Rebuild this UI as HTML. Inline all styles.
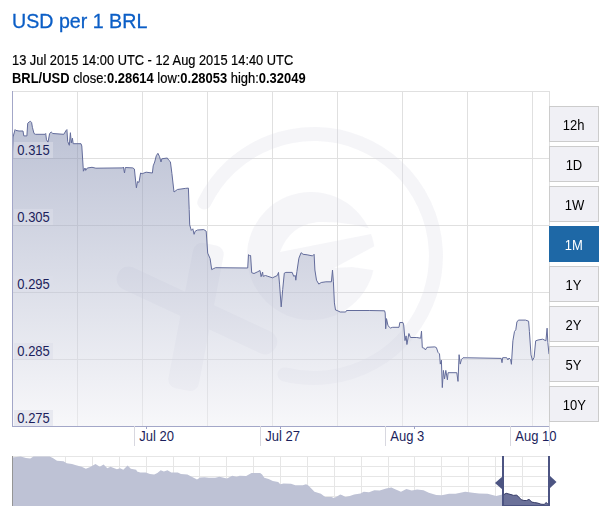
<!DOCTYPE html>
<html><head><meta charset="utf-8"><style>
html,body{margin:0;padding:0;background:#fff;width:608px;height:510px;overflow:hidden;position:relative;font-family:"Liberation Sans",sans-serif;}
.title{position:absolute;left:12px;top:8px;font-size:21px;color:#0b5ec6;line-height:26px;white-space:nowrap;transform:scaleX(0.935);transform-origin:0 0;-webkit-text-stroke:0.3px #0b5ec6;}
.l1{position:absolute;left:12px;top:52px;font-size:14px;color:#000;line-height:16px;white-space:nowrap;transform:scaleX(0.917);transform-origin:0 0;-webkit-text-stroke:0.2px #000;}
.l2{position:absolute;left:12px;top:70px;font-size:14px;color:#000;line-height:16px;white-space:nowrap;transform:scaleX(0.9245);transform-origin:0 0;-webkit-text-stroke:0.2px #000;}
.l2 b{-webkit-text-stroke:0;}
svg{position:absolute;left:0;top:0;}
.btn{position:absolute;left:549px;width:48px;height:34px;border:1px solid #cccccc;background:#f0f0f5;color:#000;font-size:14px;line-height:36px;text-align:center;}
.btn span{display:inline-block;transform:scaleX(0.93);}
.btn.active{background:#1e68a6;border-color:#1e68a6;color:#fff;}
</style></head><body>
<div class="title">USD per 1 BRL</div>
<div class="l1">13 Jul 2015 14:00 UTC - 12 Aug 2015 14:40 UTC</div>
<div class="l2"><b>BRL/USD</b> close:<b>0.28614</b> low:<b>0.28053</b> high:<b>0.32049</b></div>
<svg width="608" height="510" viewBox="0 0 608 510">
<defs>
<linearGradient id="fg" x1="0" y1="91" x2="0" y2="426" gradientUnits="userSpaceOnUse">
<stop offset="0" stop-color="rgb(110,122,163)"/>
<stop offset="1" stop-color="rgb(240,240,245)"/>
</linearGradient>
<clipPath id="plot"><rect x="12" y="91" width="537" height="335"/></clipPath>
</defs>
<g stroke="#e0e0e0" stroke-width="1" shape-rendering="crispEdges">
<line x1="12" y1="91.5" x2="549" y2="91.5"/>
<line x1="12" y1="158.5" x2="549" y2="158.5"/>
<line x1="12" y1="225.5" x2="549" y2="225.5"/>
<line x1="12" y1="292.5" x2="549" y2="292.5"/>
<line x1="12" y1="359.5" x2="549" y2="359.5"/>
<line x1="77.5" y1="91" x2="77.5" y2="426"/>
<line x1="142.5" y1="91" x2="142.5" y2="426"/>
<line x1="207.5" y1="91" x2="207.5" y2="426"/>
<line x1="272.5" y1="91" x2="272.5" y2="426"/>
<line x1="337.5" y1="91" x2="337.5" y2="426"/>
<line x1="402.5" y1="91" x2="402.5" y2="426"/>
<line x1="467.5" y1="91" x2="467.5" y2="426"/>
<line x1="532.5" y1="91" x2="532.5" y2="426"/>
<line x1="549.5" y1="91" x2="549.5" y2="426"/>
</g>
<g clip-path="url(#plot)" opacity="0.25">
<path d="M204.3 202.5 A122 122 0 1 1 284.5 374.4" fill="none" stroke="#d8d8e4" stroke-width="14" stroke-linecap="round"/>
<mask id="emask" maskUnits="userSpaceOnUse" x="0" y="0" width="608" height="510"><circle cx="311" cy="256" r="64" fill="#fff"/><path d="M280 252 Q290 225 318 222 Q348 221 378 231 L376 233 Z" fill="#000"/><path d="M334 268 L386 240 L386 272 L352 267 Z" fill="#000"/></mask>
<rect x="240" y="185" width="150" height="145" fill="#d8d8e4" mask="url(#emask)"/>
<rect x="110" y="298.4" width="174" height="24" rx="11" fill="#d8d8e4" transform="rotate(25 196.9 310.4)"/>
<rect x="180.5" y="242.9" width="31" height="148" rx="9" fill="#d8d8e4" transform="rotate(10.9 196 316.9)"/>
</g>
<path d="M12.5 152.0 L13.0 137.0 L15.1 129.6 L15.9 130.4 L19.0 131.0 L23.0 131.0 L23.8 135.9 L26.9 135.9 L27.7 123.3 L29.3 121.8 L30.5 121.3 L31.6 122.5 L32.4 127.3 L34.0 133.5 L35.5 134.3 L45.0 134.3 L45.7 133.5 L46.5 139.8 L48.0 142.2 L49.6 133.5 L51.2 132.0 L52.8 133.5 L63.8 134.3 L66.1 130.4 L66.9 129.6 L67.7 141.4 L69.3 145.3 L70.4 132.7 L71.3 142.9 L72.4 138.2 L73.2 143.7 L81.0 143.7 L81.8 146.0 L83.4 171.2 L85.0 168.0 L85.7 170.4 L87.3 168.0 L92.0 167.3 L95.9 168.2 L122.6 167.9 L123.4 167.0 L124.5 173.0 L125.3 167.5 L132.8 167.9 L134.4 169.0 L135.1 176.0 L136.4 187.8 L137.5 181.6 L139.0 182.4 L140.6 173.0 L142.2 173.7 L146.1 172.2 L152.4 173.0 L153.2 165.9 L154.7 162.0 L156.3 155.7 L157.9 153.3 L159.5 156.5 L161.0 162.0 L161.8 158.8 L167.3 158.0 L168.9 160.4 L170.4 161.8 L171.9 173.5 L174.0 192.0 L177.4 189.5 L185.3 188.4 L188.4 188.1 L189.2 209.6 L189.7 224.9 L191.3 230.4 L192.8 228.8 L194.1 234.3 L195.2 231.2 L197.5 230.0 L203.8 229.6 L206.2 231.2 L207.7 253.1 L210.1 258.6 L211.7 269.6 L213.2 268.8 L215.6 267.7 L247.7 268.0 L248.5 254.7 L249.6 255.5 L250.6 255.5 L251.7 272.7 L254.0 273.5 L257.2 272.0 L260.0 270.5 L261.1 276.7 L262.6 272.0 L263.1 276.3 L265.5 275.5 L267.8 276.3 L272.5 277.8 L277.3 275.5 L278.5 272.4 L279.6 284.9 L281.2 306.9 L282.7 289.6 L284.3 273.1 L285.9 272.4 L292.2 272.4 L293.7 276.3 L295.3 275.5 L295.8 280.2 L296.9 271.6 L298.9 258.2 L301.1 252.7 L303.1 254.3 L307.1 254.8 L312.5 255.9 L314.1 254.3 L314.9 270.0 L316.5 280.2 L318.8 284.1 L321.2 282.5 L325.9 281.8 L331.4 281.8 L332.5 270.0 L333.4 281.8 L334.4 302.9 L335.5 310.0 L337.1 310.5 L340.2 312.0 L345.7 312.0 L346.5 310.5 L369.2 310.5 L384.6 310.8 L385.2 313.1 L385.7 328.8 L386.5 318.6 L388.0 325.7 L390.4 328.0 L392.7 327.3 L399.0 327.3 L399.8 322.5 L402.9 322.5 L403.7 324.9 L405.0 340.6 L406.1 335.9 L406.9 344.5 L408.9 333.5 L410.5 337.5 L416.8 337.5 L420.7 338.2 L421.5 331.2 L422.3 347.6 L424.6 348.4 L425.4 350.0 L427.0 347.3 L434.8 346.9 L436.4 347.6 L438.0 352.4 L439.5 353.9 L440.3 364.1 L441.4 360.2 L442.3 387.6 L443.4 370.4 L444.5 379.0 L445.8 370.4 L447.4 379.8 L448.1 372.7 L456.8 372.7 L458.0 381.4 L459.1 354.7 L460.2 364.1 L461.5 359.4 L463.0 357.8 L467.7 357.8 L501.2 358.4 L502.0 362.7 L502.7 357.7 L506.7 357.7 L507.9 359.9 L509.0 358.0 L510.6 359.6 L511.4 364.3 L512.9 340.8 L514.5 331.4 L515.8 329.8 L516.9 322.0 L518.4 320.1 L525.5 320.1 L528.6 321.2 L529.4 331.4 L531.0 354.9 L532.5 360.4 L534.1 357.3 L535.7 340.8 L538.0 340.0 L542.7 339.2 L545.9 340.8 L547.1 328.2 L547.8 342.4 L549.0 354.1 L549 426 L12 426 Z" fill="url(#fg)" fill-opacity="0.5"/>
<path d="M12.5 152.0 L13.0 137.0 L15.1 129.6 L15.9 130.4 L19.0 131.0 L23.0 131.0 L23.8 135.9 L26.9 135.9 L27.7 123.3 L29.3 121.8 L30.5 121.3 L31.6 122.5 L32.4 127.3 L34.0 133.5 L35.5 134.3 L45.0 134.3 L45.7 133.5 L46.5 139.8 L48.0 142.2 L49.6 133.5 L51.2 132.0 L52.8 133.5 L63.8 134.3 L66.1 130.4 L66.9 129.6 L67.7 141.4 L69.3 145.3 L70.4 132.7 L71.3 142.9 L72.4 138.2 L73.2 143.7 L81.0 143.7 L81.8 146.0 L83.4 171.2 L85.0 168.0 L85.7 170.4 L87.3 168.0 L92.0 167.3 L95.9 168.2 L122.6 167.9 L123.4 167.0 L124.5 173.0 L125.3 167.5 L132.8 167.9 L134.4 169.0 L135.1 176.0 L136.4 187.8 L137.5 181.6 L139.0 182.4 L140.6 173.0 L142.2 173.7 L146.1 172.2 L152.4 173.0 L153.2 165.9 L154.7 162.0 L156.3 155.7 L157.9 153.3 L159.5 156.5 L161.0 162.0 L161.8 158.8 L167.3 158.0 L168.9 160.4 L170.4 161.8 L171.9 173.5 L174.0 192.0 L177.4 189.5 L185.3 188.4 L188.4 188.1 L189.2 209.6 L189.7 224.9 L191.3 230.4 L192.8 228.8 L194.1 234.3 L195.2 231.2 L197.5 230.0 L203.8 229.6 L206.2 231.2 L207.7 253.1 L210.1 258.6 L211.7 269.6 L213.2 268.8 L215.6 267.7 L247.7 268.0 L248.5 254.7 L249.6 255.5 L250.6 255.5 L251.7 272.7 L254.0 273.5 L257.2 272.0 L260.0 270.5 L261.1 276.7 L262.6 272.0 L263.1 276.3 L265.5 275.5 L267.8 276.3 L272.5 277.8 L277.3 275.5 L278.5 272.4 L279.6 284.9 L281.2 306.9 L282.7 289.6 L284.3 273.1 L285.9 272.4 L292.2 272.4 L293.7 276.3 L295.3 275.5 L295.8 280.2 L296.9 271.6 L298.9 258.2 L301.1 252.7 L303.1 254.3 L307.1 254.8 L312.5 255.9 L314.1 254.3 L314.9 270.0 L316.5 280.2 L318.8 284.1 L321.2 282.5 L325.9 281.8 L331.4 281.8 L332.5 270.0 L333.4 281.8 L334.4 302.9 L335.5 310.0 L337.1 310.5 L340.2 312.0 L345.7 312.0 L346.5 310.5 L369.2 310.5 L384.6 310.8 L385.2 313.1 L385.7 328.8 L386.5 318.6 L388.0 325.7 L390.4 328.0 L392.7 327.3 L399.0 327.3 L399.8 322.5 L402.9 322.5 L403.7 324.9 L405.0 340.6 L406.1 335.9 L406.9 344.5 L408.9 333.5 L410.5 337.5 L416.8 337.5 L420.7 338.2 L421.5 331.2 L422.3 347.6 L424.6 348.4 L425.4 350.0 L427.0 347.3 L434.8 346.9 L436.4 347.6 L438.0 352.4 L439.5 353.9 L440.3 364.1 L441.4 360.2 L442.3 387.6 L443.4 370.4 L444.5 379.0 L445.8 370.4 L447.4 379.8 L448.1 372.7 L456.8 372.7 L458.0 381.4 L459.1 354.7 L460.2 364.1 L461.5 359.4 L463.0 357.8 L467.7 357.8 L501.2 358.4 L502.0 362.7 L502.7 357.7 L506.7 357.7 L507.9 359.9 L509.0 358.0 L510.6 359.6 L511.4 364.3 L512.9 340.8 L514.5 331.4 L515.8 329.8 L516.9 322.0 L518.4 320.1 L525.5 320.1 L528.6 321.2 L529.4 331.4 L531.0 354.9 L532.5 360.4 L534.1 357.3 L535.7 340.8 L538.0 340.0 L542.7 339.2 L545.9 340.8 L547.1 328.2 L547.8 342.4 L549.0 354.1" fill="none" stroke="#636c9b" stroke-width="1" stroke-linejoin="round"/>
<g shape-rendering="crispEdges">
<line x1="12.5" y1="91" x2="12.5" y2="427" stroke="#a3a7c8"/>
<line x1="12" y1="426.5" x2="549" y2="426.5" stroke="#a3a7c8"/>
</g>
<g font-family="Liberation Sans" font-size="14" fill="#1c1f5c">
<rect x="14" y="142" width="39" height="16" fill="rgba(221,223,234,0.55)"/><text transform="translate(17.3 155) scale(0.93 1)">0.315</text>
<rect x="14" y="209" width="39" height="16" fill="rgba(221,223,234,0.55)"/><text transform="translate(17.3 222) scale(0.93 1)">0.305</text>
<rect x="14" y="276" width="39" height="16" fill="rgba(221,223,234,0.55)"/><text transform="translate(17.3 289) scale(0.93 1)">0.295</text>
<rect x="14" y="343" width="39" height="16" fill="rgba(221,223,234,0.55)"/><text transform="translate(17.3 356) scale(0.93 1)">0.285</text>
<rect x="14" y="410" width="39" height="16" fill="rgba(221,223,234,0.55)"/><text transform="translate(17.3 423) scale(0.93 1)">0.275</text>
</g>
<g font-family="Liberation Sans" font-size="14" fill="#1c1f5c" shape-rendering="crispEdges">
<line x1="134.5" y1="426" x2="134.5" y2="446" stroke="#d8d8e0"/>
<line x1="146.5" y1="426" x2="146.5" y2="429" stroke="#a0a4c8"/>
<text transform="translate(139.3 441) scale(0.93 1)">Jul 20</text>
<line x1="260.5" y1="426" x2="260.5" y2="446" stroke="#d8d8e0"/>
<line x1="280.5" y1="426" x2="280.5" y2="429" stroke="#a0a4c8"/>
<text transform="translate(265.3 441) scale(0.93 1)">Jul 27</text>
<line x1="385.5" y1="426" x2="385.5" y2="446" stroke="#d8d8e0"/>
<line x1="414.5" y1="426" x2="414.5" y2="429" stroke="#a0a4c8"/>
<text transform="translate(390.3 441) scale(0.93 1)">Aug 3</text>
<line x1="510.5" y1="426" x2="510.5" y2="446" stroke="#d8d8e0"/>
<text transform="translate(515.3 441) scale(0.93 1)">Aug 10</text>
<line x1="549.5" y1="426" x2="549.5" y2="446" stroke="#d8d8e0"/>
</g>
<g stroke="#e6e6e6" stroke-width="1" shape-rendering="crispEdges">
<line x1="12" y1="456.5" x2="549" y2="456.5"/>
<line x1="12" y1="466.5" x2="549" y2="466.5"/>
<line x1="12" y1="476.5" x2="549" y2="476.5"/>
<line x1="12" y1="486.5" x2="549" y2="486.5"/>
<line x1="12" y1="496.5" x2="549" y2="496.5"/>
<line x1="38.5" y1="456" x2="38.5" y2="506"/>
<line x1="65.5" y1="456" x2="65.5" y2="506"/>
<line x1="92.5" y1="456" x2="92.5" y2="506"/>
<line x1="119.5" y1="456" x2="119.5" y2="506"/>
<line x1="146.5" y1="456" x2="146.5" y2="506"/>
<line x1="173.5" y1="456" x2="173.5" y2="506"/>
<line x1="199.5" y1="456" x2="199.5" y2="506"/>
<line x1="226.5" y1="456" x2="226.5" y2="506"/>
<line x1="253.5" y1="456" x2="253.5" y2="506"/>
<line x1="280.5" y1="456" x2="280.5" y2="506"/>
<line x1="307.5" y1="456" x2="307.5" y2="506"/>
<line x1="334.5" y1="456" x2="334.5" y2="506"/>
<line x1="361.5" y1="456" x2="361.5" y2="506"/>
<line x1="388.5" y1="456" x2="388.5" y2="506"/>
<line x1="414.5" y1="456" x2="414.5" y2="506"/>
<line x1="441.5" y1="456" x2="441.5" y2="506"/>
<line x1="468.5" y1="456" x2="468.5" y2="506"/>
<line x1="495.5" y1="456" x2="495.5" y2="506"/>
<line x1="522.5" y1="456" x2="522.5" y2="506"/>
<line x1="549.5" y1="456" x2="549.5" y2="506"/>
</g>
<path d="M12.0 457.5 L20.7 456.4 L26.0 458.1 L30.3 458.6 L33.5 456.4 L49.6 456.4 L52.8 458.1 L57.0 460.7 L63.5 461.3 L66.7 463.3 L72.0 463.9 L75.2 465.0 L81.6 466.7 L85.9 468.8 L90.2 467.1 L95.5 463.9 L99.8 466.7 L103.6 464.5 L107.3 468.2 L110.5 466.7 L116.9 469.2 L120.1 468.2 L123.3 469.7 L127.6 465.4 L130.8 468.8 L136.2 469.7 L137.1 471.4 L140.3 472.5 L145.7 472.5 L150.0 474.0 L154.2 474.6 L157.4 473.1 L160.7 470.3 L163.9 471.4 L167.5 470.3 L171.3 472.5 L177.8 472.5 L181.0 474.0 L187.4 474.6 L191.7 476.7 L197.0 479.5 L200.2 477.4 L204.5 477.2 L208.8 477.8 L215.2 477.8 L219.5 476.7 L226.9 478.4 L232.3 475.7 L236.6 476.7 L239.8 475.7 L246.2 476.1 L251.5 473.1 L260.1 473.1 L262.1 474.6 L264.3 477.8 L268.6 478.9 L272.8 481.0 L278.2 482.1 L280.3 484.2 L283.5 483.6 L291.0 483.8 L295.3 485.3 L302.8 485.3 L306.0 484.2 L308.1 485.3 L314.5 491.7 L320.9 493.8 L325.2 497.0 L331.6 497.0 L333.8 498.1 L337.0 496.6 L340.2 494.5 L342.3 495.3 L345.5 497.0 L349.8 496.0 L354.1 494.5 L360.5 493.4 L363.7 491.7 L369.0 492.3 L374.4 490.2 L379.7 490.6 L386.1 488.5 L391.4 487.4 L394.6 488.9 L401.0 491.7 L406.4 489.1 L411.7 490.6 L417.1 489.6 L423.5 490.2 L428.8 492.8 L436.3 494.9 L441.7 495.3 L449.1 493.8 L455.6 493.8 L465.2 491.7 L472.7 492.8 L479.1 493.4 L487.6 493.8 L496.2 496.0 L502.2 494.5 L503.8 494.6 L506.2 493.3 L508.9 494.0 L511.0 494.6 L513.7 495.4 L516.4 495.1 L518.0 496.2 L521.2 499.7 L523.9 500.5 L526.5 500.5 L529.0 499.4 L531.9 502.1 L534.6 502.6 L537.8 503.1 L541.0 504.2 L544.2 504.4 L546.1 502.6 L547.6 503.7 L549.0 503.5 L549 506 L12 506 Z" fill="#bec2d5"/>
<line x1="12.5" y1="456" x2="12.5" y2="506" stroke="#959595" shape-rendering="crispEdges"/>
<clipPath id="sel"><rect x="503" y="456" width="46" height="50"/></clipPath>
<g clip-path="url(#sel)">
<path d="M12.0 457.5 L20.7 456.4 L26.0 458.1 L30.3 458.6 L33.5 456.4 L49.6 456.4 L52.8 458.1 L57.0 460.7 L63.5 461.3 L66.7 463.3 L72.0 463.9 L75.2 465.0 L81.6 466.7 L85.9 468.8 L90.2 467.1 L95.5 463.9 L99.8 466.7 L103.6 464.5 L107.3 468.2 L110.5 466.7 L116.9 469.2 L120.1 468.2 L123.3 469.7 L127.6 465.4 L130.8 468.8 L136.2 469.7 L137.1 471.4 L140.3 472.5 L145.7 472.5 L150.0 474.0 L154.2 474.6 L157.4 473.1 L160.7 470.3 L163.9 471.4 L167.5 470.3 L171.3 472.5 L177.8 472.5 L181.0 474.0 L187.4 474.6 L191.7 476.7 L197.0 479.5 L200.2 477.4 L204.5 477.2 L208.8 477.8 L215.2 477.8 L219.5 476.7 L226.9 478.4 L232.3 475.7 L236.6 476.7 L239.8 475.7 L246.2 476.1 L251.5 473.1 L260.1 473.1 L262.1 474.6 L264.3 477.8 L268.6 478.9 L272.8 481.0 L278.2 482.1 L280.3 484.2 L283.5 483.6 L291.0 483.8 L295.3 485.3 L302.8 485.3 L306.0 484.2 L308.1 485.3 L314.5 491.7 L320.9 493.8 L325.2 497.0 L331.6 497.0 L333.8 498.1 L337.0 496.6 L340.2 494.5 L342.3 495.3 L345.5 497.0 L349.8 496.0 L354.1 494.5 L360.5 493.4 L363.7 491.7 L369.0 492.3 L374.4 490.2 L379.7 490.6 L386.1 488.5 L391.4 487.4 L394.6 488.9 L401.0 491.7 L406.4 489.1 L411.7 490.6 L417.1 489.6 L423.5 490.2 L428.8 492.8 L436.3 494.9 L441.7 495.3 L449.1 493.8 L455.6 493.8 L465.2 491.7 L472.7 492.8 L479.1 493.4 L487.6 493.8 L496.2 496.0 L502.2 494.5 L503.8 494.6 L506.2 493.3 L508.9 494.0 L511.0 494.6 L513.7 495.4 L516.4 495.1 L518.0 496.2 L521.2 499.7 L523.9 500.5 L526.5 500.5 L529.0 499.4 L531.9 502.1 L534.6 502.6 L537.8 503.1 L541.0 504.2 L544.2 504.4 L546.1 502.6 L547.6 503.7 L549.0 503.5 L549 506 L12 506 Z" fill="#6b7199"/>
<path d="M12.0 457.5 L20.7 456.4 L26.0 458.1 L30.3 458.6 L33.5 456.4 L49.6 456.4 L52.8 458.1 L57.0 460.7 L63.5 461.3 L66.7 463.3 L72.0 463.9 L75.2 465.0 L81.6 466.7 L85.9 468.8 L90.2 467.1 L95.5 463.9 L99.8 466.7 L103.6 464.5 L107.3 468.2 L110.5 466.7 L116.9 469.2 L120.1 468.2 L123.3 469.7 L127.6 465.4 L130.8 468.8 L136.2 469.7 L137.1 471.4 L140.3 472.5 L145.7 472.5 L150.0 474.0 L154.2 474.6 L157.4 473.1 L160.7 470.3 L163.9 471.4 L167.5 470.3 L171.3 472.5 L177.8 472.5 L181.0 474.0 L187.4 474.6 L191.7 476.7 L197.0 479.5 L200.2 477.4 L204.5 477.2 L208.8 477.8 L215.2 477.8 L219.5 476.7 L226.9 478.4 L232.3 475.7 L236.6 476.7 L239.8 475.7 L246.2 476.1 L251.5 473.1 L260.1 473.1 L262.1 474.6 L264.3 477.8 L268.6 478.9 L272.8 481.0 L278.2 482.1 L280.3 484.2 L283.5 483.6 L291.0 483.8 L295.3 485.3 L302.8 485.3 L306.0 484.2 L308.1 485.3 L314.5 491.7 L320.9 493.8 L325.2 497.0 L331.6 497.0 L333.8 498.1 L337.0 496.6 L340.2 494.5 L342.3 495.3 L345.5 497.0 L349.8 496.0 L354.1 494.5 L360.5 493.4 L363.7 491.7 L369.0 492.3 L374.4 490.2 L379.7 490.6 L386.1 488.5 L391.4 487.4 L394.6 488.9 L401.0 491.7 L406.4 489.1 L411.7 490.6 L417.1 489.6 L423.5 490.2 L428.8 492.8 L436.3 494.9 L441.7 495.3 L449.1 493.8 L455.6 493.8 L465.2 491.7 L472.7 492.8 L479.1 493.4 L487.6 493.8 L496.2 496.0 L502.2 494.5 L503.8 494.6 L506.2 493.3 L508.9 494.0 L511.0 494.6 L513.7 495.4 L516.4 495.1 L518.0 496.2 L521.2 499.7 L523.9 500.5 L526.5 500.5 L529.0 499.4 L531.9 502.1 L534.6 502.6 L537.8 503.1 L541.0 504.2 L544.2 504.4 L546.1 502.6 L547.6 503.7 L549.0 503.5" fill="none" stroke="#3a3f6a" stroke-width="1"/>
</g>
<g fill="#4c5482" shape-rendering="crispEdges">
<rect x="502" y="456" width="2" height="50"/>
<rect x="548" y="456" width="2" height="50"/>
<rect x="502" y="505" width="48" height="1"/>
</g>
<path d="M503 476 L495 483 L503 490 Z" fill="#4c5482"/>
<path d="M549 475 L556.5 482 L549 489 Z" fill="#4c5482"/>
</svg>
<div class="btn" style="top:106px"><span>12h</span></div>
<div class="btn" style="top:146px"><span>1D</span></div>
<div class="btn" style="top:186px"><span>1W</span></div>
<div class="btn active" style="top:226px"><span>1M</span></div>
<div class="btn" style="top:266px"><span>1Y</span></div>
<div class="btn" style="top:306px"><span>2Y</span></div>
<div class="btn" style="top:346px"><span>5Y</span></div>
<div class="btn" style="top:386px"><span>10Y</span></div>
</body></html>
